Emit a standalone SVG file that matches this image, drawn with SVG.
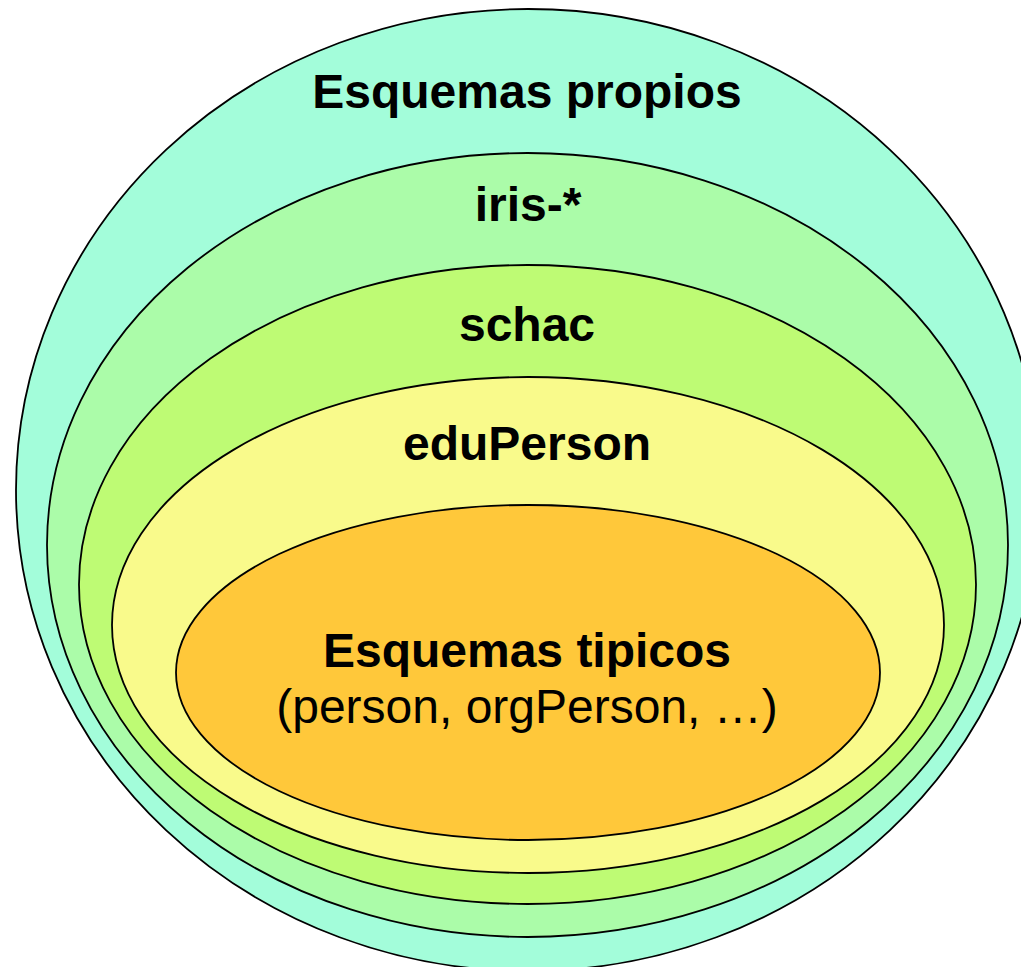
<svg xmlns="http://www.w3.org/2000/svg" width="1021" height="967" viewBox="0 0 1021 967">
<style>
.ring{stroke:#000;stroke-width:1.8}
.t{font-family:"Liberation Sans",Arial,sans-serif;font-size:48px;text-anchor:middle;fill:#000}
.b{font-weight:bold}
</style>
<rect width="1021" height="967" fill="#fff"/>
<g id="propios">
<ellipse class="ring" cx="528" cy="490" rx="512" ry="481" fill="#A3FDDA"/>
<text class="t b" x="527" y="108">Esquemas propios</text>
</g>
<g id="iris">
<ellipse class="ring" cx="527.5" cy="545" rx="480.5" ry="392" fill="#ABFCA9"/>
<text class="t b" x="528" y="221">iris-*</text>
</g>
<g id="schac">
<ellipse class="ring" cx="527.5" cy="584.5" rx="448.5" ry="319.5" fill="#BEFB74"/>
<text class="t b" x="527" y="341">schac</text>
</g>
<g id="eduPerson">
<ellipse class="ring" cx="528" cy="625" rx="416" ry="248" fill="#F9FA8B"/>
<text class="t b" x="527" y="460">eduPerson</text>
</g>
<g id="tipicos">
<ellipse class="ring" cx="528" cy="672.5" rx="352" ry="167.5" fill="#FFC83A"/>
<text class="t b" x="527" y="667">Esquemas tipicos</text>
<text class="t" x="527" y="723">(person, orgPerson, …)</text>
</g>
<g id="connectors"/>
</svg>
